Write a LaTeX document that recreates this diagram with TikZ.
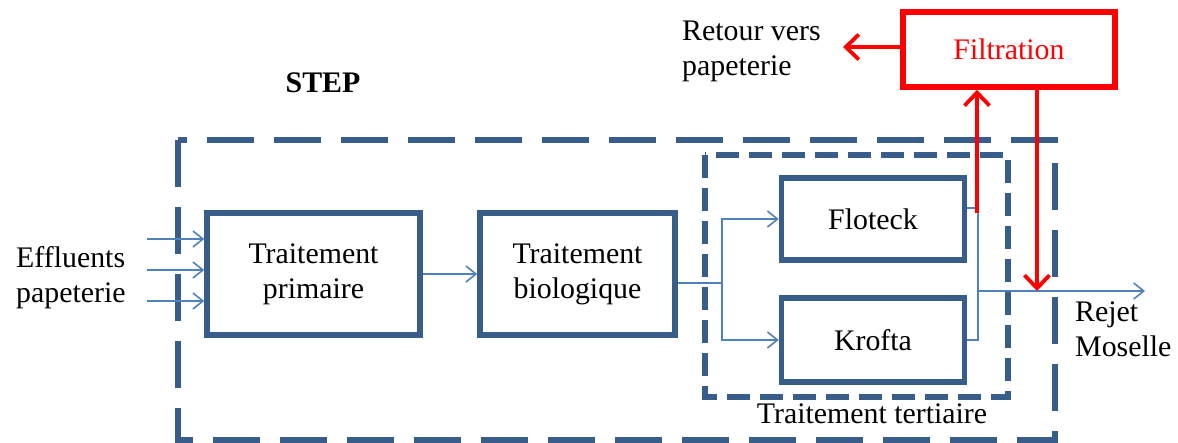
\documentclass[tikz,border=0pt]{standalone}
\usepackage{fontspec}
\setmainfont{Liberation Serif}
\usepackage{tikz}
\usetikzlibrary{arrows.meta,calc}
\usepackage{xcolor}
\definecolor{boxblue}{RGB}{56,93,138}
\definecolor{flowblue}{RGB}{79,129,189}
\definecolor{filtred}{RGB}{255,0,0}

\begin{document}
\begin{tikzpicture}[x=0.02cm,y=-0.02cm,
    font=\fontsize{17}{20}\selectfont,
    box/.style={draw=boxblue,line width=3.2pt,align=center,inner sep=0pt},
    flow/.style={flowblue,line width=0.9pt,-{Straight Barb[length=0.2cm,width=0.32cm]}},
    redflow/.style={filtred,line width=2.2pt,-{Straight Barb[length=0.26cm,width=0.5cm]}},
    steplimit/.style={boxblue,line width=3pt,dash pattern=on 0.94cm off 0.4cm},
    tertlimit/.style={boxblue,line width=3pt,dash pattern=on 0.46cm off 0.2cm}]
    \useasboundingbox (0,0) rectangle (1178,443);

    % STEP limits
    \draw[steplimit] (178,140) rectangle (1055,440);
    \node[font=\fontsize{17}{20}\selectfont\bfseries] (step) at (323,83) {STEP};
    \draw[tertlimit] (705,155) rectangle (1008,397);
    \node (tert) at (872,414) {Traitement tertiaire};

    % treatment boxes
    \node[box,minimum width=4.26cm,minimum height=2.44cm] (prim) at (313.5,274) {Traitement\\primaire};
    \node[box,minimum width=3.9cm,minimum height=2.44cm] (bio) at (577.5,274) {Traitement\\biologique};
    \node[box,minimum width=3.66cm,minimum height=1.64cm] (flot) at (873,219) {Floteck};
    \node[box,minimum width=3.66cm,minimum height=1.68cm] (krof) at (873,340) {Krofta};
    \node[box,draw=filtred,text=filtred,minimum width=4.24cm,minimum height=1.5cm] (filt) at (1009,49.5) {Filtration};

    % texts
    \node[anchor=west,align=left] (eff) at (10,278) {Effluents\\papeterie};
    \node[anchor=west,align=left] (ret) at (676,51) {Retour vers\\papeterie};
    \node[anchor=west,align=left] (rej) at (1069,329) {Rejet\\Moselle};

    % inputs
    \foreach \y [count=\i] in {239,270,301} {
        \coordinate (in\i) at (147,\y);
        \draw[flow] (in\i) -- (in\i -| prim.west);
    }
    \draw[flow] (prim.east) -- (bio.west);

    % split to tertiary treatment
    \coordinate (split) at (722,283);
    \draw[flowblue,line width=0.9pt] (bio.east |- split) -- (split);
    \draw[flow] (split) |- (flot.west);
    \draw[flow] (split) |- (krof.west);

    % join and outlet
    \coordinate (join) at (978,291);
    \coordinate (flotout) at ($(flot.east)+(0,-11)$);
    \coordinate (rejet) at (1145,291);
    \draw[flowblue,line width=0.9pt] (flotout) -| (join);
    \draw[flowblue,line width=0.9pt] (krof.east) -| (join);
    \draw[flow] (join) -- (rejet);

    % filtration loop
    \coordinate (redup) at (977,213);
    \coordinate (reddown) at (1037,291);
    \coordinate (retour) at (843,47);
    \draw[redflow] (redup) -- (redup |- filt.south);
    \draw[redflow] (reddown |- filt.south) -- (reddown);
    \draw[redflow] (filt.west |- retour) -- (retour);
\end{tikzpicture}
\end{document}
